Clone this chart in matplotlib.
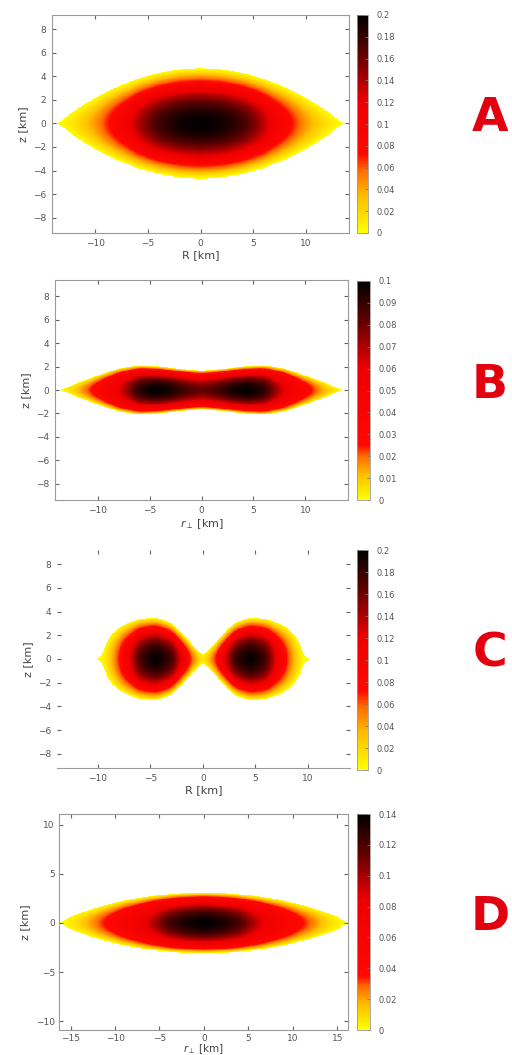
#!/usr/bin/env python3
"""Four density maps (A-D) in the R-z plane, each with its own colourbar."""

import numpy as np
import matplotlib

matplotlib.use("Agg")
import matplotlib.pyplot as plt  # noqa: E402
from matplotlib.colors import LinearSegmentedColormap  # noqa: E402

# ---- values ----------------------------------------------------------------
# half thickness of the shape (km) against |R| (km)
A_R_EDGE = [0, 2, 4, 6, 8, 10, 12, 13.5]
A_HALF_Z = [4.7, 4.6, 4.3, 3.8, 3.1, 2.2, 1.1, 0.0]
# value along z = 0 as fraction of the peak, against |R|
A_R_RIDGE = [0, 2, 4, 5.5, 7, 8.5, 10, 12, 13.5]
A_RIDGE = [1.0, 0.97, 0.88, 0.74, 0.55, 0.38, 0.22, 0.07, 0.0]
A_PEAK = 0.2
A_CTICKS = [0, 0.02, 0.04, 0.06, 0.08, 0.1, 0.12, 0.14, 0.16, 0.18, 0.2]

B_R_EDGE = [0, 2, 4, 6, 8, 10, 12, 13.5]
B_HALF_Z = [1.65, 1.8, 2.0, 2.1, 1.85, 1.25, 0.6, 0.0]
B_R_RIDGE = [0, 1.5, 3, 4.5, 6, 7.5, 9, 10.5, 12, 13.5]
B_RIDGE = [0.8, 0.86, 0.96, 1.0, 0.92, 0.68, 0.45, 0.26, 0.1, 0.0]
B_PEAK = 0.1
B_CTICKS = [0, 0.01, 0.02, 0.03, 0.04, 0.05, 0.06, 0.07, 0.08, 0.09, 0.1]

C_R_EDGE = [0, 0.3, 1.2, 2.3, 3.2, 4.5, 6, 7.3, 8.3, 8.9, 9.3, 9.5, 9.6]
C_HALF_Z = [0.15, 0.55, 1.4, 2.5, 3.15, 3.5, 3.4, 3.0, 2.5, 1.9, 1.3, 0.8, 0.0]
C_R_RIDGE = [0, 0.5, 1.3, 2.2, 3.0, 4.5, 6.0, 6.8, 7.9, 8.8, 9.6]
C_RIDGE = [0.0, 0.14, 0.38, 0.65, 0.88, 1.0, 0.88, 0.65, 0.38, 0.14, 0.0]
C_PEAK = 0.2
C_CTICKS = [0, 0.02, 0.04, 0.06, 0.08, 0.1, 0.12, 0.14, 0.16, 0.18, 0.2]

D_R_EDGE = [0, 3, 6, 9, 12, 15, 16.1]
D_HALF_Z = [3.1, 3.0, 2.75, 2.3, 1.6, 0.7, 0.0]
D_R_RIDGE = [0, 2, 4, 6, 8, 10.9, 13, 14.5, 16.1]
D_RIDGE = [1.0, 0.96, 0.86, 0.66, 0.48, 0.27, 0.13, 0.05, 0.0]
D_PEAK = 0.14
D_CTICKS = [0, 0.02, 0.04, 0.06, 0.08, 0.1, 0.12, 0.14]

LETTERS = ["A", "B", "C", "D"]
XLABELS = ["R [km]", r"$r_\perp$ [km]", "R [km]", r"$r_\perp$ [km]"]

LABEL_GREY = "#555555"
FRAME_GREY = "#9a9a9a"


def make_cmap(red_at):
    return LinearSegmentedColormap.from_list("hot_r_like", [
        (0.0, "#ffff00"),
        (red_at * 0.45, "#ffc000"),
        (red_at * 0.8, "#ff6a00"),
        (red_at, "#ff0800"),
        (0.6, "#ee0000"),
        (0.82, "#600000"),
        (1.0, "#000000"),
    ])


def profile(kx, ky, s, width=0.3):
    """Knot profile against |R|, lightly smoothed so edges are not polygonal."""
    fine = np.linspace(-20, 20, 4001)
    y = np.interp(np.abs(fine), kx, ky)
    step = fine[1] - fine[0]
    k = np.arange(-4 * width, 4 * width + step, step)
    ker = np.exp(-0.5 * (k / width) ** 2)
    y = np.convolve(y, ker / ker.sum(), mode="same")
    return np.interp(s, fine, y)


def field(R, Z, r_edge, half_z, r_ridge, ridge, pz, peak):
    h = profile(r_edge, half_z, R)
    g = profile(r_ridge, ridge, R)
    u = np.divide(Z, h, out=np.full_like(Z, 2.0), where=h > 0.02)
    inside = np.abs(u) < 1
    val = peak * np.clip(g, 0, None) * np.clip(1 - u ** 2, 0, None) ** pz
    return np.ma.masked_where(~inside, val)


def fmt(v):
    return "0" if v == 0 else f"{v:g}"


panels = [
    dict(data=(A_R_EDGE, A_HALF_Z, A_R_RIDGE, A_RIDGE), pz=1.15, peak=A_PEAK,
         cticks=A_CTICKS, red_at=0.36,
         ax=[52, 15, 349, 233], cb=[357, 15, 368, 233],
         xlim=(-14.1, 14.1), ylim=(-9.3, 9.2),
         xticks=[-10, -5, 0, 5, 10], yticks=[-8, -6, -4, -2, 0, 2, 4, 6, 8]),
    dict(data=(B_R_EDGE, B_HALF_Z, B_R_RIDGE, B_RIDGE), pz=0.9, peak=B_PEAK,
         cticks=B_CTICKS, red_at=0.25,
         ax=[55, 280, 348, 500], cb=[357, 281, 370, 500],
         xlim=(-14.1, 14.1), ylim=(-9.4, 9.4),
         xticks=[-10, -5, 0, 5, 10], yticks=[-8, -6, -4, -2, 0, 2, 4, 6, 8]),
    dict(data=(C_R_EDGE, C_HALF_Z, C_R_RIDGE, C_RIDGE), pz=1.0, peak=C_PEAK,
         cticks=C_CTICKS, red_at=0.36,
         ax=[57, 550, 350, 768], cb=[357, 550, 368, 770],
         xlim=(-13.9, 14.0), ylim=(-9.2, 9.2),
         xticks=[-10, -5, 0, 5, 10], yticks=[-8, -6, -4, -2, 0, 2, 4, 6, 8]),
    dict(data=(D_R_EDGE, D_HALF_Z, D_R_RIDGE, D_RIDGE), pz=1.0, peak=D_PEAK,
         cticks=D_CTICKS, red_at=0.25,
         ax=[59, 814, 348, 1030], cb=[357, 814, 370, 1030],
         xlim=(-16.3, 16.2), ylim=(-10.9, 11.1),
         xticks=[-15, -10, -5, 0, 5, 10, 15], yticks=[-10, -5, 0, 5, 10]),
]

W, H = 512, 1055
fig = plt.figure(figsize=(W / 100, H / 100), dpi=100)


def box(px):
    x0, y0, x1, y1 = px
    return [x0 / W, 1 - y1 / H, (x1 - x0) / W, (y1 - y0) / H]


for i, p in enumerate(panels):
    ax = fig.add_axes(box(p["ax"]))
    cax = fig.add_axes(box(p["cb"]))

    r = np.linspace(p["xlim"][0], p["xlim"][1], 900)
    z = np.linspace(p["ylim"][0], p["ylim"][1], 700)
    RR, ZZ = np.meshgrid(r, z)
    vals = field(RR, ZZ, *p["data"], p["pz"], p["peak"])

    cmap = make_cmap(p["red_at"])
    im = ax.imshow(vals, origin="lower", cmap=cmap, vmin=0, vmax=p["peak"],
                   extent=[*p["xlim"], *p["ylim"]], aspect="auto",
                   interpolation="nearest")
    ax.set_xlim(p["xlim"])
    ax.set_ylim(p["ylim"])
    ax.set_xticks(p["xticks"])
    ax.set_yticks(p["yticks"])
    ax.tick_params(direction="in", length=3, width=0.8, color="#666666",
                   labelsize=6.5, labelcolor=LABEL_GREY, top=True, right=True,
                   pad=4 if i < 3 else 3)
    for name, s in ax.spines.items():
        s.set_color(FRAME_GREY)
        s.set_linewidth(0.8)
        if i == 2 and name != "bottom":
            s.set_visible(False)

    if i == 3:
        ax.set_xlabel(XLABELS[i], fontsize=7.5, color="#444444", labelpad=-1)
    else:
        ax.set_xlabel(XLABELS[i], fontsize=8, color="#444444", labelpad=2)
    ax.set_ylabel("z [km]", fontsize=8, color="#444444", labelpad=4)

    cb = fig.colorbar(im, cax=cax)
    cb.set_ticks(p["cticks"])
    cb.set_ticklabels([fmt(v) for v in p["cticks"]])
    cb.outline.set_edgecolor(FRAME_GREY)
    cb.outline.set_linewidth(0.6)
    cax.tick_params(direction="in", length=2, width=0.6, color="#777777",
                    labelsize=6, labelcolor=LABEL_GREY, pad=6)

    yc = (p["ax"][1] + p["ax"][3]) / 2 - 5
    fig.text(490 / W, 1 - yc / H, LETTERS[i], ha="center", va="center",
             fontsize=34, fontweight="bold", color="#e3000f")

fig.savefig("out.png", dpi=100)
